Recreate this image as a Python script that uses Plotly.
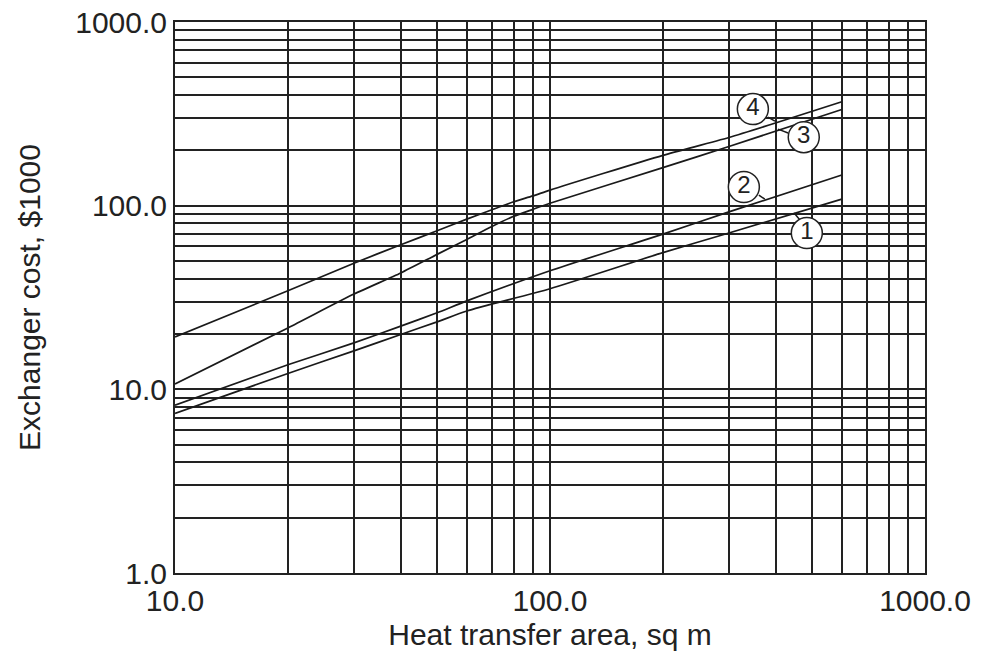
import plotly.graph_objects as go

# ---- data (heat transfer area, sq m -> cost, $1000)
area_1 = [10, 20, 30, 40, 50, 60, 100, 200, 300, 600]
cost_1 = [7.4, 12.2, 16.2, 19.9, 23.3, 26.7, 35.3, 55.5, 71, 108.6]

area_2 = [10, 20, 30, 40, 50, 60, 100, 200, 300, 600]
cost_2 = [8.2, 13.6, 17.9, 22.1, 26.1, 30.3, 44.2, 70, 92.5, 147]

area_3 = [10, 20, 30, 40, 50, 60, 70, 80, 90, 100, 200, 300, 600]
cost_3 = [10.7, 21.6, 33.0, 43.0, 54.3, 65.5, 77.0, 87.5, 95.5, 103, 161, 210, 334]

area_4 = [10, 20, 30, 40, 50, 60, 70, 80, 90, 100, 200, 300, 600]
cost_4 = [19.3, 34.4, 48.6, 61.3, 73.0, 84.5, 95.0, 105, 113, 121.6, 188, 235, 368]

series_names = ["1", "2", "3", "4"]

x_tick_vals = [10, 100, 1000]
x_tick_text = ["10.0", "100.0", "1000.0"]
y_tick_vals = [1, 10, 100, 1000]
y_tick_text = ["1.0", "10.0", "100.0", "1000.0"]

x_minor = [m * d for d in (10, 100) for m in range(2, 10)]
y_minor = [m * d for d in (1, 10, 100) for m in range(2, 10)]

# circled curve labels (data coords) and leader lines (start, end)
label_x = {"4": 347.5, "3": 475, "2": 328.8, "1": 484}
label_y = {"4": 335.6, "3": 236, "2": 126.3, "1": 70.9}
leader_x = {"4": (381, 398), "3": (431.5, 405.5), "2": (360.5, 374), "1": (447.8, 464)}
leader_y = {"4": (303.6, 288.9), "3": (248.5, 261), "2": (114.2, 108.6), "1": (91.2, 83.5)}

FONT = "Liberation Sans, Arial, sans-serif"
INK = "#1a1a1a"

fig = go.Figure()
for name, xs, ys in [("1", area_1, cost_1), ("2", area_2, cost_2),
                     ("3", area_3, cost_3), ("4", area_4, cost_4)]:
    fig.add_trace(go.Scatter(x=xs, y=ys, mode="lines", name=name,
                             line=dict(color=INK, width=1.7, shape="spline", smoothing=0.6),
                             showlegend=False, hoverinfo="skip"))

for name in series_names:
    fig.add_trace(go.Scatter(x=list(leader_x[name]), y=list(leader_y[name]), mode="lines",
                             line=dict(color=INK, width=1.5), showlegend=False,
                             hoverinfo="skip"))

fig.add_trace(go.Scatter(
    x=[label_x[n] for n in series_names], y=[label_y[n] for n in series_names],
    mode="markers+text", text=series_names, textposition="middle center",
    textfont=dict(size=24, color="#222222", family=FONT),
    marker=dict(size=31, color="white", line=dict(color="#222222", width=1.5)),
    showlegend=False, hoverinfo="skip", cliponaxis=False))

axis_common = dict(
    type="log", automargin=False,
    showgrid=True, gridcolor="#222222", gridwidth=1.6,
    showline=True, linecolor="#222222", linewidth=2, mirror=True,
    ticks="", zeroline=False,
    tickfont=dict(size=30, color="#222222", family=FONT),
)

fig.update_layout(
    width=981, height=656,
    margin=dict(l=175, r=56, t=22, b=83),
    paper_bgcolor="white", plot_bgcolor="white",
    xaxis=dict(axis_common, range=[1, 3], tickmode="array", tickvals=x_tick_vals,
               ticktext=x_tick_text,
               minor=dict(tickmode="array", tickvals=x_minor, showgrid=True,
                          gridcolor="#222222", gridwidth=1.6, ticks=""),
               title=dict(text="Heat transfer area, sq m", standoff=8,
                          font=dict(size=30, color="#222222", family=FONT))),
    yaxis=dict(axis_common, range=[0, 3], tickmode="array", tickvals=y_tick_vals,
               ticktext=y_tick_text,
               minor=dict(tickmode="array", tickvals=y_minor, showgrid=True,
                          gridcolor="#222222", gridwidth=1.6, ticks=""),
               title=dict(text="Exchanger cost, $1000", standoff=26,
                          font=dict(size=30, color="#222222", family=FONT))),
)

fig.write_html("out.html")
